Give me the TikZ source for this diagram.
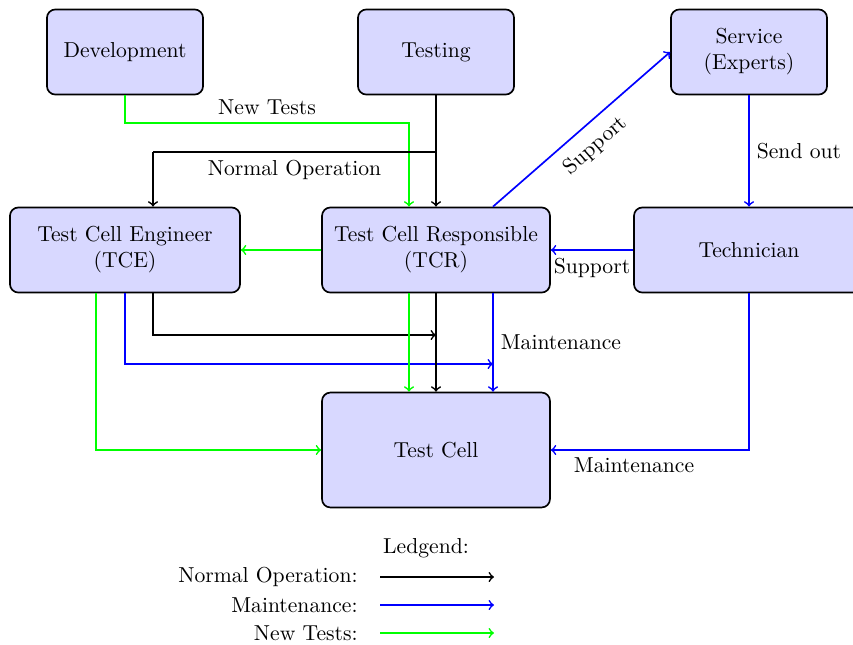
\documentclass[tikz,border=0pt]{standalone}
\usetikzlibrary{calc}
\definecolor{boxfill}{RGB}{216,216,255}
\begin{document}
\begin{tikzpicture}[x=0.476pt,y=-0.476pt,
  every node/.style={font=\fontsize{10.3pt}{12.4pt}\selectfont,text=black},
  box/.style={draw=black,thick,fill=boxfill,rounded corners=4pt,align=center,
    minimum width=74.3pt,minimum height=40.5pt,inner sep=2pt},
  wide/.style={box,minimum width=109pt},
  no/.style={->,thick,black},
  mt/.style={->,thick,blue},
  ng/.style={->,thick,green}]
\useasboundingbox (0,0) rectangle (853,644);
% nodes
\node[box] (dev) at (125,52) {Development};
\node[box] (test) at (436,52) {Testing};
\node[box] (serv) at (749,52) {Service\\(Experts)};
\node[wide,minimum width=109.5pt] (tce) at (125,250) {Test Cell Engineer\\(TCE)};
\node[wide,minimum width=108.5pt] (tcr) at (436,250) {Test Cell Responsible\\(TCR)};
\node[wide,minimum width=109.5pt] (tech) at (749,250) {Technician};
\node[box,minimum width=108.5pt,minimum height=54.7pt] (cell) at (436,450) {Test Cell};
% helper coordinates
\coordinate (ntx) at (409,123);
\coordinate (b1) at (436,152);
\coordinate (b2) at (153,152);
\coordinate (mx) at (493,0);
\coordinate (gx) at (96,0);
\coordinate (kx) at (153,0);
\coordinate (k2) at (436,335);
\coordinate (m2) at (493,364);
% connectors
\draw[ng] (dev.south) |- node[pos=0.75,above] {New Tests} (ntx) -- (ntx |- tcr.north);
\draw[no] (test.south) -- (tcr.north);
\draw[thick] (b1) -- node[below] {Normal Operation} (b2);
\draw[no] (b2) -- (b2 |- tce.north);
\draw[mt] (mx |- tcr.north) -- node[sloped,below=2pt,pos=0.5] {Support} (serv.west);
\draw[mt] (serv.south) -- node[right] {Send out} (tech.north);
\draw[mt] (tech.west) -- node[below] {Support} (tcr.east);
\draw[ng] (tcr.west) -- (tce.east);
\draw[ng] (gx |- tce.south) |- (cell.west);
\draw[no] (kx |- tce.south) |- (k2);
\draw[mt] (tce.south) |- (m2);
\draw[ng] (ntx |- tcr.south) -- (ntx |- cell.north);
\draw[no] (tcr.south) -- (cell.north);
\draw[mt] (mx |- tcr.south) -- node[right] {Maintenance} (mx |- cell.north);
\draw[mt] (tech.south) |- node[pos=0.79,below] {Maintenance} (cell.east);
% legend
\node (leg) at (426,548) {Ledgend:};
\node[anchor=east,inner sep=0pt] (l1) at (358,577) {Normal Operation:};
\node[anchor=east,inner sep=0pt] (l2) at (358,605) {Maintenance:};
\node[anchor=east,inner sep=0pt] (l3) at (358,633) {New Tests:};
\coordinate (a1s) at (380,577); \coordinate (a1e) at (494,577);
\coordinate (a2s) at (380,605); \coordinate (a2e) at (494,605);
\coordinate (a3s) at (380,633); \coordinate (a3e) at (494,633);
\draw[no] (a1s) -- (a1e);
\draw[mt] (a2s) -- (a2e);
\draw[ng] (a3s) -- (a3e);
\end{tikzpicture}
\end{document}
